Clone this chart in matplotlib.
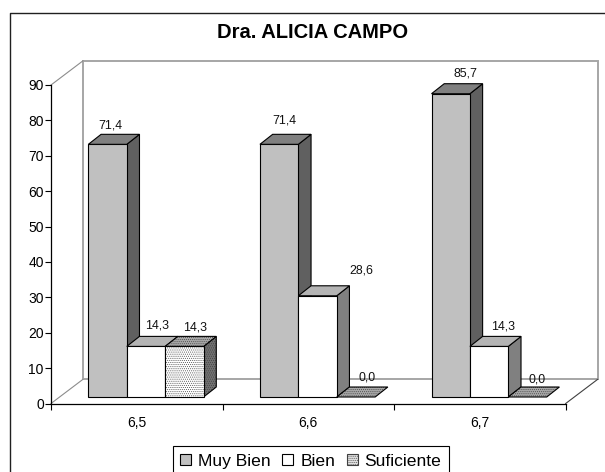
import matplotlib
matplotlib.use('Agg')
import matplotlib.pyplot as plt
from matplotlib.lines import Line2D
from matplotlib.patches import Patch, Polygon, Rectangle

plt.rcParams['font.family'] = ['Liberation Sans', 'DejaVu Sans']
plt.rcParams['hatch.linewidth'] = 0.4

categories = ['6,5', '6,6', '6,7']
series = ['Muy Bien', 'Bien', 'Suficiente']
muy_bien = [71.4, 71.4, 85.7]
bien = [14.3, 28.6, 14.3]
suficiente = [14.3, 0.0, 0.0]
values = [muy_bien, bien, suficiente]
y_ticks = list(range(0, 100, 10))
title = 'Dra. ALICIA CAMPO'

W, H = 605, 472
X0, X1, Y0, Y90 = 51, 565.7, 403.5, 85
PX = (X1 - X0) / 3      # pixels per category
PY = (Y0 - Y90) / 90    # pixels per value unit

front = ['#c0c0c0', '#ffffff', '#ffffff']
top = ['#808080', '#b4b4b4', '#a8a8a8']
side = ['#606060', '#808080', '#707070']
hatch = [None, None, '........']

# label offsets from bar centre / bar top, in pixels (they were hand placed)
label_dx = [[2.3, 11.3, 10.5], [4.8, 43.3, 10.7], [14.9, 13.7, 9.2]]
label_dy = [[19, 20.4, 18.4], [24.2, 24.8, 20], [20.1, 19.4, 18]]

fig = plt.figure(figsize=(W / 100, H / 100), dpi=100)
ax = fig.add_axes([X0 / W, (H - Y0) / H, (X1 - X0) / W, (Y0 - Y90) / H])
ax.set_xlim(0, 3)
ax.set_ylim(0, 90)
ax.patch.set_alpha(0)

# depth of the back wall, of the bar start and of one bar, in data units
wall_x, wall_y = 32 / PX, 24.2 / PY
off_x, off_y = 9.2 / PX, 6.5 / PY
dep_x, dep_y = 12.7 / PX, 10 / PY
bar_w = 38.4 / PX

wall = '#a6a6a6'
ax.add_patch(Rectangle((wall_x, wall_y), 3, 90, fc='none', ec=wall, lw=1.4, clip_on=False, zorder=1))
ax.plot([0, wall_x], [90, 90 + wall_y], color='#8c8c8c', lw=0.8, clip_on=False, zorder=1)
ax.plot([0, wall_x], [0, wall_y], color='#8c8c8c', lw=0.8, clip_on=False, zorder=1)
ax.plot([3, 3 + wall_x], [0, wall_y], color='#404040', lw=0.8, clip_on=False, zorder=1)


def shaded(points, fc, h):
    # hatch takes the edge colour, so the fill and the outline are two patches
    if h:
        ax.add_patch(Polygon(points, fc=fc, ec='#404040', hatch=h, lw=0, clip_on=False, zorder=3))
        ax.add_patch(Polygon(points, fc='none', ec='black', lw=0.8, clip_on=False, zorder=3))
    else:
        ax.add_patch(Polygon(points, fc=fc, ec='black', lw=0.8, clip_on=False, zorder=3))


for i in range(len(categories)):
    for j in range(len(series)):
        v = values[j][i]
        x = i + 0.5 + off_x + (j - 1.5) * bar_w
        b = off_y
        t = b + v
        if v > 0:
            shaded([(x + bar_w, b), (x + bar_w + dep_x, b + dep_y),
                    (x + bar_w + dep_x, t + dep_y), (x + bar_w, t)], side[j], hatch[j])
            shaded([(x, b), (x + bar_w, b), (x + bar_w, t), (x, t)], front[j], hatch[j])
        shaded([(x, t), (x + bar_w, t), (x + bar_w + dep_x, t + dep_y), (x + dep_x, t + dep_y)], top[j], hatch[j])
        ax.annotate(f'{v:.1f}'.replace('.', ','), (x + bar_w / 2, t),
                    xytext=(label_dx[i][j], label_dy[i][j]), textcoords='offset pixels',
                    ha='center', va='center', fontsize=8.9, color='#111111',
                    annotation_clip=False, zorder=5)

for s in ['top', 'right']:
    ax.spines[s].set_visible(False)
for s in ['left', 'bottom']:
    ax.spines[s].set_linewidth(0.9)
    ax.spines[s].set_zorder(2)

ax.set_yticks(y_ticks)
ax.set_xticks([0, 1, 2, 3])
ax.set_xticklabels([])
ax.set_xticks([0.5, 1.5, 2.5], minor=True)
ax.set_xticklabels(categories, minor=True)
ax.tick_params(axis='both', which='major', length=4.2, width=0.8, labelsize=10, pad=1)
ax.tick_params(axis='x', which='minor', length=0, labelsize=10, pad=9)

fig.text(312.5 / W, 1 - 33 / H, title, fontsize=14.5, fontweight='bold', ha='center', va='center')

# chart frame: only its top and left sides are inside the picture
fig.add_artist(Line2D([9.5 / W, 9.5 / W, 1], [0, 1 - 13 / H, 1 - 13 / H], color='#202020', lw=1))

handles = [Patch(fc='#c0c0c0', ec='black', lw=0.8), Patch(fc='white', ec='black', lw=0.8),
           Patch(fc='#e0e0e0', ec='#404040', lw=0.8, hatch='........')]
fig.legend(handles, series, ncol=3, loc='lower left', bbox_to_anchor=(173 / W, -4 / H),
           borderaxespad=0, fontsize=12.6, fancybox=False, framealpha=1, edgecolor='black',
           handlelength=0.62, handleheight=0.62, handletextpad=0.4, columnspacing=0.66,
           borderpad=0.42).get_frame().set_linewidth(0.8)

fig.savefig('out.png', dpi=100)
